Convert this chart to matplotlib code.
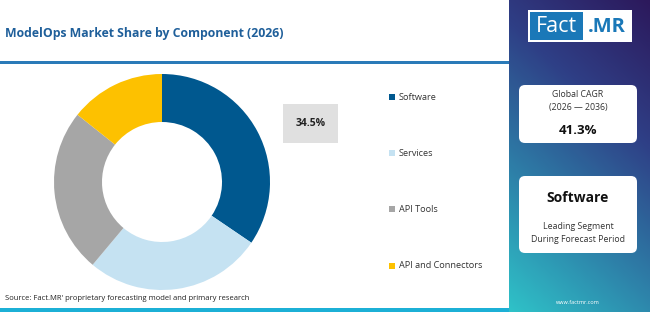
import matplotlib
matplotlib.use("Agg")
import matplotlib.pyplot as plt
import numpy as np
from matplotlib.patches import Rectangle, FancyBboxPatch
from matplotlib.colors import LinearSegmentedColormap

plt.rcParams['font.family'] = ['Open Sans', 'DejaVu Sans']

# data
title = 'ModelOps Market Share by Component (2026)'
segments = ['Software', 'Services', 'API Tools', 'API and Connectors']
shares = [34.5, 26.6, 24.6, 14.3]
seg_colors = ['#00588f', '#c5e2f2', '#a6a6a6', '#fdc100']
cagr_label = 'Global CAGR\n(2026 \u2014 2036)'
cagr_value = '41.3%'
leader = 'Software'
leader_note = 'Leading Segment\nDuring Forecast Period'
source = "Source: Fact.MR' proprietary forecasting model and primary research"

W, H = 650, 312
fig = plt.figure(figsize=(6.5, 3.12), dpi=100)
fig.patch.set_facecolor('white')

# overlay axes in pixel coords (y down)
bg = fig.add_axes([0, 0, 1, 1])
bg.axis('off')

# right gradient panel: purple top-right -> teal bottom-left
gx, gy = np.meshgrid(np.linspace(0, 1, 80), np.linspace(0, 1, 200))
grad = np.clip(0.72 * gy + 0.28 * (1 - gx), 0, 1)
cmap = LinearSegmentedColormap.from_list('fm', ['#2c195c', '#2f3f86', '#2d7fa8', '#2fc2c8'])
bg.imshow(grad, cmap=cmap, extent=[509, W, H, 0], aspect='auto', zorder=0,
          interpolation='bilinear')
bg.set_xlim(0, W)
bg.set_ylim(H, 0)

# title and rules
bg.text(5, 34, title, fontsize=8.8, fontweight='bold', color='#1f5f9a', va='center', ha='left')
bg.add_patch(Rectangle((0, 61), 509, 2.5, color='#2a7ab8', lw=0))
bg.add_patch(Rectangle((0, 308), 509, 4, color='#1cb0d6', lw=0))
bg.text(5, 299, source, fontsize=5.5, color='#222222', va='center', ha='left')

# logo
bg.add_patch(Rectangle((528, 10), 104, 32, facecolor='white', edgecolor='none', zorder=2))
bg.add_patch(Rectangle((530, 12), 53, 28, facecolor='#1a78b8', edgecolor='none', zorder=3))
bg.text(556.5, 26.5, 'Fact', fontsize=15.5, color='white', ha='center', va='center', zorder=4)
bg.text(607, 26.5, '.MR', fontsize=14.5, fontweight='bold', color='#1a78b8', ha='center',
        va='center', zorder=4)

# cards
for (y0, y1) in [(85, 143), (176, 253)]:
    bg.add_patch(FancyBboxPatch((519, y0), 118, y1 - y0, boxstyle='round,pad=0,rounding_size=6',
                                facecolor='white', edgecolor='none', zorder=2))
bg.text(578, 101, cagr_label, fontsize=6.3, color='#333333', ha='center', va='center',
        linespacing=1.5, zorder=3)
bg.text(578, 131, cagr_value, fontsize=9.5, fontweight='bold', color='#111111', ha='center',
        va='center', zorder=3)
bg.text(578, 198, leader, fontsize=10, fontweight='bold', color='#111111', ha='center',
        va='center', zorder=3)
bg.text(578, 233, leader_note, fontsize=6.3, color='#333333', ha='center', va='center',
        linespacing=1.5, zorder=3)
bg.text(578, 302, 'www.factmr.com', fontsize=4, color='white', ha='center', va='center', zorder=3)

# value box
bg.add_patch(Rectangle((283, 104), 55, 39, facecolor='#e0e0e0', edgecolor='none'))
bg.text(310.5, 124, f'{shares[0]}%', fontsize=7.5, fontweight='bold', color='#222222',
        ha='center', va='center')

# legend
leg_y = [97, 153, 209, 266]
for name, col, y in zip(segments, seg_colors, leg_y):
    bg.add_patch(Rectangle((389, y - 2.8), 5.5, 5.5, facecolor=col, edgecolor='none'))
    bg.text(399, y, name, fontsize=6.6, color='#333333', ha='left', va='center')

# donut
cx, cy, r = 162, 182, 108
ax = fig.add_axes([(cx - r) / W, (H - cy - r) / H, 2 * r / W, 2 * r / H])
ax.pie(shares, colors=seg_colors, startangle=90, counterclock=False, radius=1,
       wedgeprops=dict(width=48 / 108, edgecolor='none'))
ax.set_xlim(-1, 1)
ax.set_ylim(-1, 1)
ax.set_aspect('equal')
ax.axis('off')

fig.savefig('out.png', dpi=100)
